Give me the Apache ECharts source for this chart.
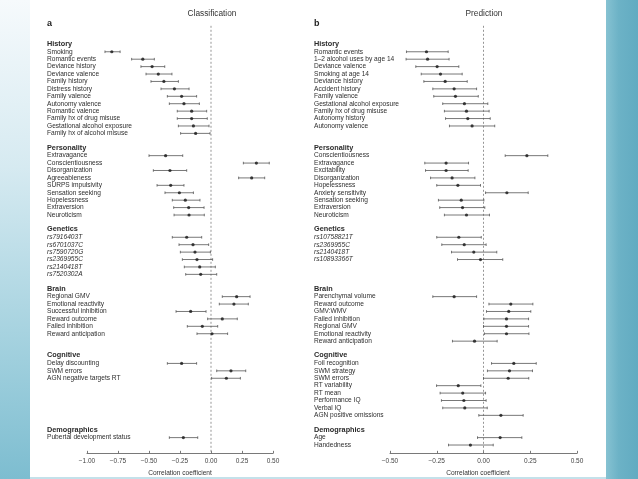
<!DOCTYPE html>
<html>
<head>
<meta charset="utf-8">
<script src="https://cdn.jsdelivr.net/npm/echarts@6/dist/echarts.min.js"></script>
<style>
  html, body { margin: 0; padding: 0; width: 638px; height: 479px; overflow: hidden; background: #ffffff; }
  #leftStrip { position: absolute; left: 0; top: 0; width: 30px; height: 479px;
    background: linear-gradient(to bottom, #f6fafc 0%, #d6eaf1 35%, #9fcfdd 75%, #7dbdd0 100%); }
  #rightStrip { position: absolute; left: 606px; top: 0; width: 32px; height: 479px;
    background: linear-gradient(to right, #86c2d2 0%, #6cb2c6 40%, #62abc1 100%); }
  #bottomStrip { position: absolute; left: 30px; top: 477px; width: 576px; height: 2px; background: #c4e1ea; }
  #chart { position: absolute; left: 0; top: 0; width: 638px; height: 479px; }
</style>
</head>
<body>
<div id="leftStrip"></div>
<div id="rightStrip"></div>
<div id="bottomStrip"></div>
<div id="chart"></div>
<script>
// ---------- Section titles (shared) ----------
const sectionTitles = ['History', 'Personality', 'Genetics', 'Brain', 'Cognitive', 'Demographics'];

// ---------- Panel a: Classification ----------
const clsHistoryNames = ['Smoking', 'Romantic events', 'Deviance history', 'Deviance valence', 'Family history', 'Distress history', 'Family valence', 'Autonomy valence', 'Romantic valence', 'Family hx of drug misuse', 'Gestational alcohol exposure', 'Family hx of alcohol misuse'];
const clsHistoryEst = [-0.80, -0.55, -0.475, -0.425, -0.38, -0.295, -0.237, -0.218, -0.156, -0.156, -0.142, -0.124];
const clsHistoryLo  = [-0.855, -0.64, -0.565, -0.524, -0.484, -0.403, -0.352, -0.336, -0.272, -0.272, -0.263, -0.245];
const clsHistoryHi  = [-0.733, -0.457, -0.373, -0.315, -0.263, -0.177, -0.116, -0.094, -0.035, -0.03, -0.016, -0.008];

const clsPersonalityNames = ['Extravagance', 'Conscientiousness', 'Disorganization', 'Agreeableness', 'SURPS impulsivity', 'Sensation seeking', 'Hopelessness', 'Extraversion', 'Neuroticism'];
const clsPersonalityEst = [-0.366, 0.366, -0.331, 0.328, -0.325, -0.255, -0.207, -0.18, -0.177];
const clsPersonalityLo  = [-0.50, 0.261, -0.465, 0.223, -0.435, -0.371, -0.312, -0.301, -0.298];
const clsPersonalityHi  = [-0.228, 0.47, -0.196, 0.433, -0.218, -0.142, -0.089, -0.056, -0.054];

const clsGeneticsNames = ['rs7916403T', 'rs6701037C', 'rs7590720G', 'rs2369955C', 'rs2140418T', 'rs7520302A'];
const clsGeneticsEst = [-0.196, -0.145, -0.129, -0.113, -0.091, -0.083];
const clsGeneticsLo  = [-0.312, -0.258, -0.247, -0.231, -0.215, -0.204];
const clsGeneticsHi  = [-0.075, -0.019, -0.005, 0.013, 0.035, 0.046];

const clsBrainNames = ['Regional GMV', 'Emotional reactivity', 'Successful inhibition', 'Reward outcome', 'Failed inhibition', 'Reward anticipation'];
const clsBrainEst = [0.207, 0.185, -0.164, 0.091, -0.07, 0.008];
const clsBrainLo  = [0.091, 0.067, -0.282, -0.027, -0.191, -0.113];
const clsBrainHi  = [0.315, 0.301, -0.04, 0.212, 0.054, 0.134];

const clsCognitiveNames = ['Delay discounting', 'SWM errors', 'AGN negative targets RT'];
const clsCognitiveEst = [-0.237, 0.161, 0.124];
const clsCognitiveLo  = [-0.352, 0.046, 0.005];
const clsCognitiveHi  = [-0.116, 0.28, 0.237];

const clsDemographicsNames = ['Pubertal development status'];
const clsDemographicsEst = [-0.223];
const clsDemographicsLo  = [-0.336];
const clsDemographicsHi  = [-0.107];

// ---------- Panel b: Prediction ----------
const preHistoryNames = ['Romantic events', '1\u20132 alcohol uses by age 14', 'Deviance valence', 'Smoking at age 14', 'Deviance history', 'Accident history', 'Family valence', 'Gestational alcohol exposure', 'Family hx of drug misuse', 'Autonomy history', 'Autonomy valence'];
const preHistoryEst = [-0.305, -0.299, -0.248, -0.23, -0.205, -0.157, -0.15, -0.102, -0.091, -0.084, -0.061];
const preHistoryLo  = [-0.412, -0.414, -0.362, -0.333, -0.319, -0.271, -0.266, -0.218, -0.209, -0.203, -0.182];
const preHistoryHi  = [-0.189, -0.184, -0.132, -0.114, -0.087, -0.037, -0.028, 0.023, 0.03, 0.036, 0.06];

const prePersonalityNames = ['Conscientiousness', 'Extravagance', 'Excitability', 'Disorganization', 'Hopelessness', 'Anxiety sensitivity', 'Sensation seeking', 'Extraversion', 'Neuroticism'];
const prePersonalityEst = [0.232, -0.2, -0.2, -0.168, -0.137, 0.125, -0.119, -0.112, -0.091];
const prePersonalityLo  = [0.116, -0.314, -0.31, -0.283, -0.25, 0.011, -0.241, -0.234, -0.209];
const prePersonalityHi  = [0.344, -0.08, -0.082, -0.046, -0.016, 0.239, 0.002, 0.007, 0.032];

const preGeneticsNames = ['rs10758821T', 'rs2369955C', 'rs2140418T', 'rs10893366T'];
const preGeneticsEst = [-0.132, -0.103, -0.052, -0.016];
const preGeneticsLo  = [-0.25, -0.223, -0.171, -0.139];
const preGeneticsHi  = [-0.012, 0.014, 0.071, 0.103];

const preBrainNames = ['Parenchymal volume', 'Reward outcome', 'GMV:WMV', 'Failed inhibition', 'Regional GMV', 'Emotional reactivity', 'Reward anticipation'];
const preBrainEst = [-0.157, 0.146, 0.135, 0.123, 0.123, 0.123, -0.048];
const preBrainLo  = [-0.271, 0.029, 0.016, 0.002, 0.0, 0.005, -0.166];
const preBrainHi  = [-0.037, 0.264, 0.253, 0.241, 0.241, 0.243, 0.073];

const preCognitiveNames = ['Foil recognition', 'SWM strategy', 'SWM errors', 'RT variability', 'RT mean', 'Performance IQ', 'Verbal IQ', 'AGN positive omissions'];
const preCognitiveEst = [0.162, 0.139, 0.132, -0.135, -0.111, -0.105, -0.10, 0.093];
const preCognitiveLo  = [0.043, 0.021, 0.0, -0.251, -0.232, -0.225, -0.218, -0.025];
const preCognitiveHi  = [0.282, 0.262, 0.242, -0.014, 0.011, 0.014, 0.02, 0.212];

const preDemographicsNames = ['Age', 'Handedness'];
const preDemographicsEst = [0.089, -0.07];
const preDemographicsLo  = [-0.032, -0.187];
const preDemographicsHi  = [0.205, 0.052];

// ---------- Axis tick settings ----------
const clsTicks = { min: -1.0, max: 0.5, interval: 0.25 };
const preTicks = { min: -0.5, max: 0.5, interval: 0.25 };
const zeroValue = 0;

// ---------- Build panels ----------
const clsSections = [
  [clsHistoryNames, clsHistoryEst, clsHistoryLo, clsHistoryHi],
  [clsPersonalityNames, clsPersonalityEst, clsPersonalityLo, clsPersonalityHi],
  [clsGeneticsNames, clsGeneticsEst, clsGeneticsLo, clsGeneticsHi],
  [clsBrainNames, clsBrainEst, clsBrainLo, clsBrainHi],
  [clsCognitiveNames, clsCognitiveEst, clsCognitiveLo, clsCognitiveHi],
  [clsDemographicsNames, clsDemographicsEst, clsDemographicsLo, clsDemographicsHi]
];
const preSections = [
  [preHistoryNames, preHistoryEst, preHistoryLo, preHistoryHi],
  [prePersonalityNames, prePersonalityEst, prePersonalityLo, prePersonalityHi],
  [preGeneticsNames, preGeneticsEst, preGeneticsLo, preGeneticsHi],
  [preBrainNames, preBrainEst, preBrainLo, preBrainHi],
  [preCognitiveNames, preCognitiveEst, preCognitiveLo, preCognitiveHi],
  [preDemographicsNames, preDemographicsEst, preDemographicsLo, preDemographicsHi]
];

function buildPanel(tag, sections) {
  const keys = [], meta = {}, points = [], bars = [];
  let blankN = 0;
  const addBlank = () => { const k = tag + '_blank' + (blankN++); keys.push(k); meta[k] = { type: 'blank' }; };
  addBlank(); addBlank(); // space above first section (for zero line)
  sections.forEach((sec, si) => {
    const other = (tag === 'a' ? preSections : clsSections)[si];
    const slots = Math.max(sec[0].length, other[0].length);
    const hk = tag + '_h' + si;
    keys.push(hk); meta[hk] = { type: 'header', label: sectionTitles[si] };
    for (let i = 0; i < slots; i++) {
      if (i < sec[0].length) {
        const k = tag + '_' + si + '_' + i;
        const idx = keys.length;
        keys.push(k);
        meta[k] = { type: sectionTitles[si] === 'Genetics' ? 'gene' : 'item', label: sec[0][i] };
        points.push([sec[1][i], idx]);
        bars.push([sec[2][i], sec[3][i], idx]);
      } else addBlank();
    }
    if (si < sections.length - 1) addBlank();
  });
  return { keys, meta, points, bars };
}

const panelA = buildPanel('a', clsSections);
const panelB = buildPanel('b', preSections);

const FONT = '"Liberation Sans", Arial, Helvetica, sans-serif';
const AXIS_OFFSET = 4.6;

function yAxisFor(panel, gridIndex, margin) {
  return {
    type: 'category', gridIndex, inverse: true, data: panel.keys,
    axisLine: { show: false }, axisTick: { show: false }, splitLine: { show: false },
    axisLabel: {
      interval: 0, align: 'left', margin, fontFamily: FONT, hideOverlap: false,
      formatter: (v) => {
        const m = panel.meta[v];
        if (!m || m.type === 'blank') return '';
        if (m.type === 'header') return '{h|' + m.label + '}';
        if (m.type === 'gene') return '{g|' + m.label + '}';
        return '{i|' + m.label + '}';
      },
      rich: {
        h: { fontFamily: FONT, fontSize: 7.3, fontWeight: 'bold', color: '#2a2a2a', padding: [0, 0, 1, 0] },
        i: { fontFamily: FONT, fontSize: 6.6, color: '#2e2e2e' },
        g: { fontFamily: FONT, fontSize: 6.6, color: '#2e2e2e', fontStyle: 'italic' }
      }
    }
  };
}

function fmt(v) {
  const s = Math.abs(v).toFixed(2);
  return (v < -1e-9 ? '\u2212' : '') + s;
}

function xAxisFor(gridIndex, ticks, namePad) {
  return {
    type: 'value', gridIndex, min: ticks.min, max: ticks.max, interval: ticks.interval,
    position: 'bottom', offset: AXIS_OFFSET,
    splitLine: { show: false },
    axisLine: { show: true, lineStyle: { color: '#6a6a6a', width: 0.9 } },
    axisTick: { show: true, inside: true, length: 2.5, lineStyle: { color: '#6a6a6a', width: 0.9 } },
    axisLabel: { formatter: fmt, fontFamily: FONT, fontSize: 6.5, color: '#444', margin: 4 },
    name: 'Correlation coefficient', nameLocation: 'middle', nameGap: 14,
    nameTextStyle: { fontFamily: FONT, fontSize: 6.6, color: '#333', padding: namePad }
  };
}

function zeroLineSeries(idx) {
  return {
    type: 'custom', xAxisIndex: idx, yAxisIndex: idx, silent: true, z: 1, clip: false,
    encode: { x: 0, y: 1 },
    data: [[zeroValue, 0]],
    renderItem: (params, api) => {
      const p = api.coord([api.value(0), 0]);
      const cs = params.coordSys;
      return {
        type: 'line',
        shape: { x1: p[0], y1: cs.y, x2: p[0], y2: cs.y + cs.height + AXIS_OFFSET },
        style: { stroke: '#8a8a8a', lineWidth: 0.9, lineDash: [2, 2] }
      };
    }
  };
}

function barSeries(panel, idx) {
  return {
    type: 'custom', xAxisIndex: idx, yAxisIndex: idx, silent: true, z: 3,
    encode: { x: [0, 1], y: 2 },
    data: panel.bars,
    renderItem: (params, api) => {
      const p1 = api.coord([api.value(0), api.value(2)]);
      const p2 = api.coord([api.value(1), api.value(2)]);
      const c = 1.3;
      const st = { stroke: '#555', lineWidth: 0.8 };
      return {
        type: 'group',
        children: [
          { type: 'line', shape: { x1: p1[0], y1: p1[1], x2: p2[0], y2: p2[1] }, style: st },
          { type: 'line', shape: { x1: p1[0], y1: p1[1] - c, x2: p1[0], y2: p1[1] + c }, style: st },
          { type: 'line', shape: { x1: p2[0], y1: p2[1] - c, x2: p2[0], y2: p2[1] + c }, style: st }
        ]
      };
    }
  };
}

function pointSeries(panel, idx) {
  return {
    type: 'scatter', xAxisIndex: idx, yAxisIndex: idx, silent: true, z: 4,
    symbol: 'circle', symbolSize: 3.2,
    itemStyle: { color: '#151515' },
    data: panel.points
  };
}

const ROWS = panelA.keys.length; // 57
const ROW_H = 7.42;
const chart = echarts.init(document.getElementById('chart'), null, { renderer: 'canvas' });
chart.setOption({
  backgroundColor: 'transparent',
  animation: false,
  textStyle: { fontFamily: FONT },
  title: [
    { text: 'Classification', left: 212, top: 10, padding: 0, textAlign: 'center', textStyle: { fontFamily: FONT, fontSize: 8.3, fontWeight: 'normal', color: '#333' } },
    { text: 'Prediction', left: 484, top: 10, padding: 0, textAlign: 'center', textStyle: { fontFamily: FONT, fontSize: 8.3, fontWeight: 'normal', color: '#333' } },
    { text: 'a', left: 47, top: 19.5, padding: 0, textStyle: { fontFamily: FONT, fontSize: 9, fontWeight: 'bold', color: '#222' } },
    { text: 'b', left: 314, top: 19.5, padding: 0, textStyle: { fontFamily: FONT, fontSize: 9, fontWeight: 'bold', color: '#222' } }
  ],
  grid: [
    { left: 87, width: 186, top: 25.8, height: ROWS * ROW_H, outerBoundsMode: 'none', containLabel: false },
    { left: 390, width: 187, top: 25.8, height: ROWS * ROW_H, outerBoundsMode: 'none', containLabel: false }
  ],
  xAxis: [xAxisFor(0, clsTicks, [0, 0, 0, 0]), xAxisFor(1, preTicks, [0, 11, 0, 0])],
  yAxis: [yAxisFor(panelA, 0, 40), yAxisFor(panelB, 1, 76)],
  series: [
    zeroLineSeries(0), barSeries(panelA, 0), pointSeries(panelA, 0),
    zeroLineSeries(1), barSeries(panelB, 1), pointSeries(panelB, 1)
  ]
});
</script>
</body>
</html>
